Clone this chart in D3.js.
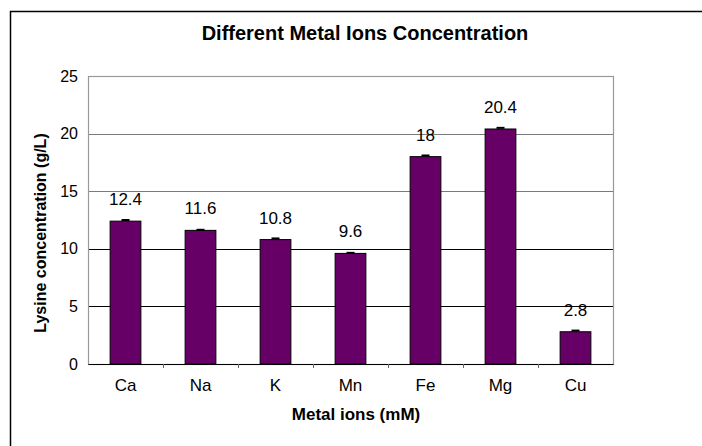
<!DOCTYPE html>
<html>
<head>
<meta charset="utf-8">
<script src="https://cdn.jsdelivr.net/npm/d3@7"></script>
<style>
  body { margin: 0; background: #fff; }
  text { font-family: "Liberation Sans", Arial, sans-serif; }
</style>
</head>
<body>
<div id="chart"></div>
<script>
// Data
var metals = ["Ca", "Na", "K", "Mn", "Fe", "Mg", "Cu"];
var lysine = [12.4, 11.6, 10.8, 9.6, 18, 20.4, 2.8];
var errors = [0.1, 0.05, 0.1, 0.05, 0.1, 0.1, 0.1];
var yTicks = [0, 5, 10, 15, 20, 25];

var W = 702, H = 446;
var margin = { top: 76, right: 89, bottom: 82, left: 88 };
var width = W - margin.left - margin.right;
var height = H - margin.top - margin.bottom;

var svg = d3.select("#chart").append("svg")
    .attr("width", W)
    .attr("height", H);

// outer frame (only top and left edges visible)
svg.append("path")
    .attr("d", "M10.5," + H + "V11.5H" + W)
    .attr("fill", "none")
    .attr("stroke", "#000")
    .attr("stroke-width", 1.5);

var g = svg.append("g")
    .attr("transform", "translate(" + margin.left + "," + margin.top + ")");

var x = d3.scaleBand().domain(metals).range([0, width]).paddingInner(0.59).paddingOuter(0.295);
var xb = d3.scaleBand().domain(metals).range([0, width]);
var y = d3.scaleLinear().domain([0, 25]).range([height, 0]);

// gridlines
g.selectAll(".grid")
    .data(yTicks.filter(d => d > 0 && d < 25))
    .enter().append("line")
    .attr("x1", 0).attr("x2", width)
    .attr("y1", d => Math.round(y(d)) + 0.5)
    .attr("y2", d => Math.round(y(d)) + 0.5)
    .attr("stroke", d => d >= 15 ? "#7a7a7a" : "#000")
    .attr("stroke-width", 1);

// plot frame
g.append("rect")
    .attr("x", 0.5).attr("y", 0.5)
    .attr("width", width).attr("height", height)
    .attr("fill", "none")
    .attr("stroke", "#999")
    .attr("stroke-width", 1.2);

// y axis
var yAxis = g.append("g")
    .call(d3.axisLeft(y).tickValues(yTicks).tickSize(0).tickPadding(10));
yAxis.select(".domain").remove();
yAxis.selectAll("text")
    .attr("font-size", 16)
    .attr("fill", "#000")
    .style("font-family", "'Liberation Sans', Arial, sans-serif");

// x axis
var xAxis = g.append("g")
    .attr("transform", "translate(0," + height + ")")
    .call(d3.axisBottom(x).tickSize(0).tickPadding(15));
xAxis.select(".domain").attr("stroke", "#000").attr("stroke-width", 1.2);
xAxis.selectAll("text")
    .attr("font-size", 17)
    .attr("fill", "#000")
    .style("font-family", "'Liberation Sans', Arial, sans-serif");

// x tick marks at category boundaries
g.selectAll(".xtick")
    .data(metals.slice(1))
    .enter().append("line")
    .attr("x1", d => Math.round(xb(d)) + 0.5)
    .attr("x2", d => Math.round(xb(d)) + 0.5)
    .attr("y1", height).attr("y2", height + 4)
    .attr("stroke", "#666");

// bars
g.selectAll(".bar")
    .data(lysine)
    .enter().append("rect")
    .attr("x", (d, i) => x(metals[i]))
    .attr("y", d => y(d))
    .attr("width", x.bandwidth())
    .attr("height", d => height - y(d))
    .attr("fill", "#660066")
    .attr("stroke", "#000")
    .attr("stroke-width", 1);

// error bars
g.selectAll(".err")
    .data(lysine)
    .enter().append("line")
    .attr("x1", (d, i) => x(metals[i]) + x.bandwidth() / 2 - 4)
    .attr("x2", (d, i) => x(metals[i]) + x.bandwidth() / 2 + 4)
    .attr("y1", (d, i) => y(d + errors[i]))
    .attr("y2", (d, i) => y(d + errors[i]))
    .attr("stroke", "#000")
    .attr("stroke-width", 2);

// value labels
g.selectAll(".val")
    .data(lysine)
    .enter().append("text")
    .attr("x", (d, i) => x(metals[i]) + x.bandwidth() / 2)
    .attr("y", d => y(d) - 16)
    .attr("text-anchor", "middle")
    .attr("font-size", 17)
    .text(d => d);

// titles
svg.append("text")
    .attr("x", 365).attr("y", 40)
    .attr("text-anchor", "middle")
    .attr("font-size", 20)
    .attr("font-weight", "bold")
    .text("Different Metal Ions Concentration");

svg.append("text")
    .attr("x", 356).attr("y", 420)
    .attr("text-anchor", "middle")
    .attr("font-size", 17)
    .attr("font-weight", "bold")
    .text("Metal ions (mM)");

svg.append("text")
    .attr("transform", "translate(46,233) rotate(-90)")
    .attr("text-anchor", "middle")
    .attr("font-size", 16)
    .attr("font-weight", "bold")
    .text("Lysine concentration (g/L)");
</script>
</body>
</html>
